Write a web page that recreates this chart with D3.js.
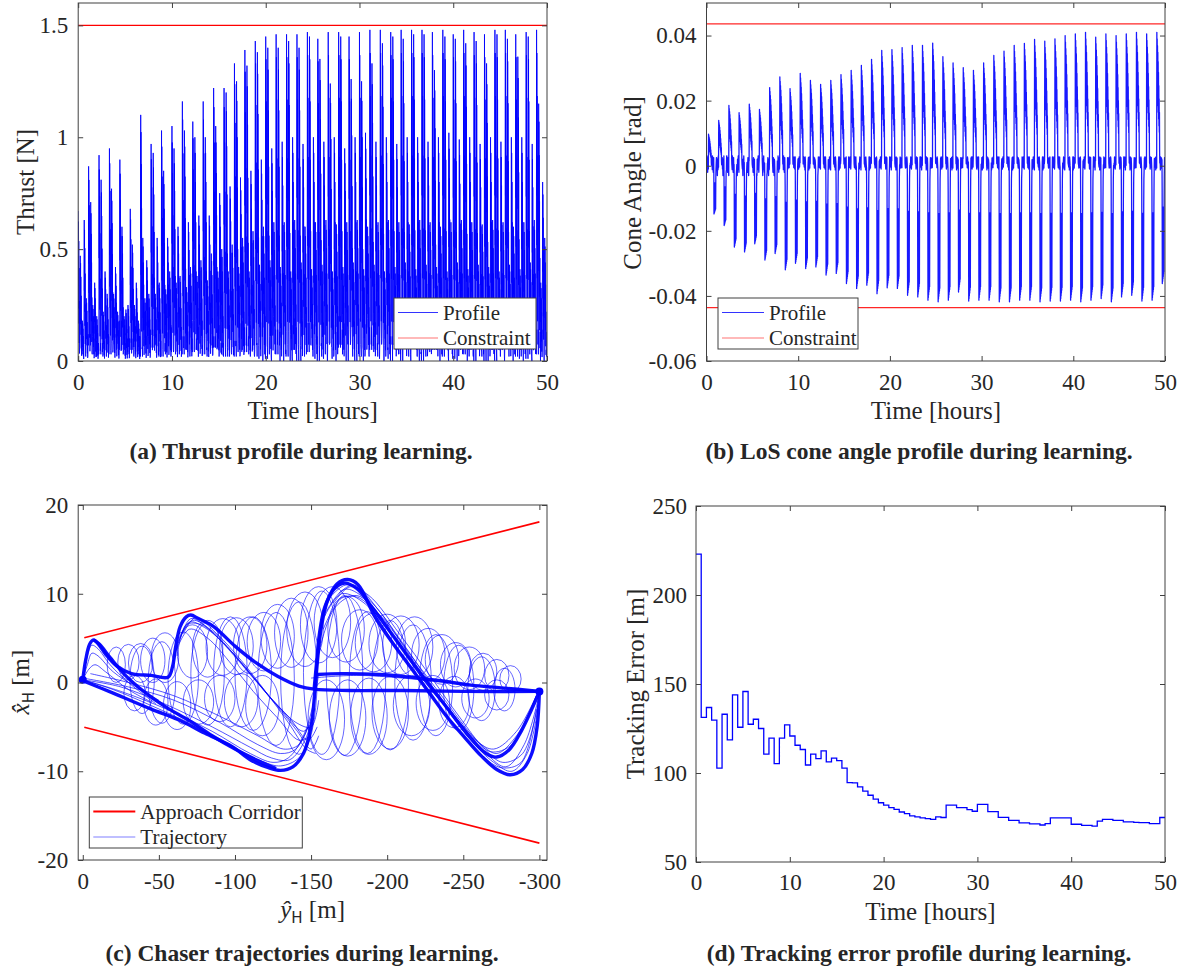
<!DOCTYPE html>
<html>
<head>
<meta charset="utf-8">
<script src="https://cdn.jsdelivr.net/npm/d3@7"></script>
<style>
  body { margin: 0; background: #fff; }
  svg text { font-family: "Liberation Serif", "Times New Roman", serif; fill: #262626; }
</style>
</head>
<body>
<svg id="fig" width="1184" height="974"></svg>
<script>
// ---------------- data ----------------
const timeTicks   = [0, 10, 20, 30, 40, 50];
const thrustTicks = [0, 0.5, 1, 1.5];
const coneTicks   = [-0.06, -0.04, -0.02, 0, 0.02, 0.04];
const yHatTicks   = [0, -50, -100, -150, -200, -250, -300];
const xHatTicks   = [-20, -10, 0, 10, 20];
const errorTicks  = [50, 100, 150, 200, 250];

const thrustLimit = 1.5;      // N
const coneLimit   = 0.0436;   // rad (2.5 deg)
const cyclePeriod = 10 / 9;   // hours per approach cycle
const errorStep   = 5 / 9;    // hours per tracking-error evaluation

// peak thrust of the firings in each cycle [N]
const thrustMain   = [0.67,0.87,0.92,0.95,0.90,0.68,1.10,0.97,1.03,1.05,1.16,1.07,1.16,1.22,1.22,1.33,1.39,1.43,1.45,1.46,1.46,1.46,1.47,1.44,1.47,1.47,1.45,1.47,1.48,1.48,1.47,1.48,1.48,1.48,1.47,1.48,1.46,1.48,1.47,1.46,1.48,1.48,1.46,1.47,1.48];
const thrustSecond = [0.47,0.71,0.81,0.77,0.60,0.52,0.55,0.93,0.85,0.95,1.03,1.00,1.00,1.05,1.20,1.25,1.32,1.38,1.40,1.40,1.43,1.40,1.45,1.35,1.24,1.45,1.26,1.25,1.33,1.42,1.45,1.44,1.46,1.46,1.30,1.45,1.44,1.42,1.43,1.33,1.46,1.44,1.36,1.45,1.15];
const thrustMid    = [0.63,0.35,0.40,0.42,0.23,0.35,0.45,0.55,0.55,0.60,0.62,0.65,0.65,0.75,0.78,0.82,0.85,0.90,0.95,0.98,1.00,0.97,1.00,0.98,1.00,0.95,1.00,1.02,0.98,1.00,0.97,1.00,1.00,0.98,1.00,1.02,0.99,1.00,0.97,1.00,0.98,1.00,1.00,0.97,0.80];
const thrustLow    = [0.28,0.20,0.30,0.22,0.25,0.18,0.30,0.35,0.40,0.38,0.42,0.45,0.48,0.50,0.52,0.55,0.58,0.60,0.62,0.62,0.63,0.60,0.62,0.63,0.61,0.62,0.63,0.60,0.62,0.63,0.62,0.61,0.63,0.62,0.60,0.62,0.63,0.62,0.61,0.63,0.62,0.60,0.62,0.63,0.55];
const thrustMinor  = [0.18,0.25,0.22,0.30,0.20,0.25,0.28,0.30,0.32,0.35,0.33,0.38,0.36,0.40,0.40,0.42,0.40,0.43,0.45,0.42,0.40,0.44,0.41,0.43,0.40,0.42,0.44,0.41,0.43,0.40,0.42,0.44,0.41,0.43,0.42,0.40,0.44,0.41,0.43,0.42,0.40,0.43,0.41,0.44,0.35];
// decay of a firing (fraction of its peak) and low-level thrust between firings
const thrustSpikeShape = [1, 0.5, 0.93, 0.35, 0.8, 0.25, 0.62, 0.12, 0.4, 0.05];
const thrustFloorEarly = [0.05,0.11,0.03,0.08,0.02,0.14,0.06,0.10,0.04,0.18,0.05,0.09,0.02,0.12,0.07,0.03,0.10,0.05,0.15,0.04,0.08,0.03,0.11,0.06,0.02];
const thrustFloorLate  = [0.08,0.02,0.15,0.05,0.00,0.12,0.20,0.06,0.01,0.10,0.17,0.04,0.00,0.09,0.14,0.03,0.11,0.00,0.07,0.19,0.05,0.02,0.13,0.00,0.08];

// extreme LoS cone angle reached in each cycle [rad]
const conePeak   = [0.0097,0.0139,0.0185,0.0163,0.0189,0.0173,0.0240,0.0273,0.0237,0.0284,0.0262,0.0250,0.0262,0.0280,0.0293,0.0308,0.0327,0.0354,0.0357,0.0363,0.0370,0.0370,0.0377,0.0335,0.0316,0.0301,0.0293,0.0316,0.0339,0.0352,0.0370,0.0376,0.0388,0.0383,0.0390,0.0400,0.0405,0.0410,0.0395,0.0405,0.0400,0.0405,0.0410,0.0405,0.0410];
const coneTrough = [-0.0148,-0.0184,-0.0250,-0.0265,-0.0240,-0.0290,-0.0270,-0.0320,-0.0300,-0.0316,-0.0311,-0.0336,-0.0331,-0.0362,-0.0377,-0.0367,-0.0393,-0.0375,-0.0377,-0.0398,-0.0403,-0.0413,-0.0418,-0.0413,-0.0388,-0.0416,-0.0413,-0.0413,-0.0418,-0.0418,-0.0413,-0.0413,-0.0418,-0.0416,-0.0416,-0.0413,-0.0418,-0.0413,-0.0408,-0.0418,-0.0403,-0.0398,-0.0416,-0.0413,-0.0362];
const conePosShape = [1, 0.6, 0.95, 0.55, 0.9, 0.5, 0.85, 0.45, 0.78, 0.4, 0.7, 0.35, 0.6, 0.3, 0.5, 0.25, 0.4, 0.1, 0.02];
const coneNegShape = [0.2, 1, 0.4, 0.98, 0.35, 0.96, 0.4, 0.94, 0.35, 0.92, 0.4, 0.9, 0.3, 0.1];
const coneChatterEarly = [0.0015,-0.0012,0.0030,-0.0005,0.0010,-0.0020,0.0008,0.0025,-0.0010,0.0004,-0.0030,0.0020];
const coneChatterLate  = [0.0008,-0.0006,0.0027,0.0022,0.0005,-0.0010,0.0012,0.0027,0.0003,-0.0004,0.0025,0.0009,-0.0013,0.0027,0.0015,0.0001,-0.0007,0.0024,0.0006,0.0019];

// mean tracking error per evaluation window [m]
const trackingError = [223.0,131.2,136.8,129.7,102.7,133.0,118.6,143.9,125.7,145.8,127.4,130.2,125.0,110.6,119.6,105.3,119.6,127.0,120.8,115.6,113.2,104.5,110.6,108.1,112.4,106.2,108.4,107.0,102.7,94.6,94.4,92.2,89.8,87.5,85.3,83.3,82.0,80.6,79.6,78.1,77.2,75.9,75.3,74.8,74.4,73.9,75.3,75.0,82.0,82.0,80.6,80.6,79.4,78.5,82.4,82.4,78.3,78.3,75.1,75.1,73.4,73.4,72.0,72.0,71.4,71.4,70.8,71.6,74.8,74.8,74.8,74.8,71.2,71.2,70.6,70.6,70.1,73.0,74.0,74.0,73.4,73.4,72.5,72.5,72.3,72.1,72.1,71.6,71.6,75.0];

// approach corridor (y_H, x_H) [m]
const corridorY     = [-1, -300];
const corridorUpper = [5.04, 18.1];
const corridorLower = [-5.04, -18.1];

// converged trajectories (y_H, x_H) [m]
const trajConverged = [
  [[0,0.3],[-2,2.6],[-4.5,4.3],[-7,4.8],[-10,4.4],[-15,3.2],[-22,1.9],[-32,1.0],[-45,0.8],[-56,0.6],[-59,1.8],[-61,4],[-64,6.3],[-68,7.4],[-71,7.6],[-76,7.2],[-86,6.3],[-100,4.1],[-114,2.2],[-128,0.7],[-142,-0.4],[-152,-0.75],[-175,-0.9],[-210,-0.9],[-250,-1],[-300,-1]],
  [[0,0.2],[-20,-1.2],[-45,-3],[-63,-4.2],[-80,-5.7],[-98,-7.2],[-110,-8.7],[-122,-9.6],[-130,-9.9],[-138,-9.5],[-145,-8],[-150,-5],[-152.5,-1],[-154.5,3],[-157,6.5],[-161,9.3],[-167,11.1],[-174,11.6],[-181,11],[-192,7.4],[-203,4.6],[-215,1.8],[-227,-1],[-239,-3.8],[-251,-6.2],[-262,-8.3],[-272,-9.8],[-281,-10.4],[-289,-9.8],[-295,-8],[-298.5,-5],[-300,-1]],
  [[-152,-0.75],[-153.5,2],[-155.5,5.5],[-159,8.5],[-165,10.5],[-172,11.2],[-180,10.6],[-190,8.5],[-205,5],[-222,1],[-240,-3],[-255,-6.3],[-265,-8],[-272,-8.4],[-280,-7.6],[-288,-5.5],[-295,-3],[-300,-1]],
  [[-7,4.8],[-11,4.3],[-18,2.8],[-28,0.8],[-40,-1],[-55,-2.8],[-70,-4.3],[-85,-6],[-100,-7.5],[-115,-8.8],[-127,-9.7]],
  [[-154,0.9],[-170,1.0],[-195,0.9],[-215,0.6],[-235,0.2],[-255,-0.3],[-275,-0.6],[-300,-1]]
];
// intermediate trajectories (y_H, x_H) [m]
const trajLearning = [
  [[0,0.3],[-25,-1],[-55,-3],[-85,-5.5],[-110,-8],[-125,-9],[-135,-8.5],[-145,-6],[-152,-2],[-155,1]],
  [[0,0.3],[-25,-0.5],[-55,-2.5],[-85,-5],[-110,-7.3],[-124,-8.5],[-136,-8.7],[-146,-6.5],[-152,-3]],
  [[0,0.5],[-30,-0.5],[-60,-2],[-90,-4.5],[-115,-7],[-130,-8],[-140,-7.5],[-148,-5]],
  [[-5,1],[-30,0],[-60,-1.5],[-90,-3.8],[-115,-6],[-132,-7.5],[-142,-7],[-150,-4]],
  [[0,0.3],[-20,-0.8],[-45,-2.6],[-75,-5],[-100,-7.4],[-118,-8.9],[-130,-9.4],[-142,-8.5],[-150,-6]],
  [[-62,4],[-70,6.8],[-80,6.2],[-95,4],[-110,1],[-125,-2],[-140,-4.5],[-150,-5],[-155,-2]],
  [[-64,5],[-72,7],[-85,5.8],[-100,3],[-115,0],[-130,-3],[-145,-5.5],[-152,-4]],
  [[-60,3],[-70,6],[-82,5],[-98,2],[-112,-1],[-128,-4],[-142,-6.5],[-150,-6]],
  [[-62,3],[-68,6.5],[-78,6.5],[-92,4.5],[-108,1.5],[-122,-1.5],[-136,-4],[-148,-6.5],[-154,-5]],
  [[-63,4.5],[-71,7.2],[-83,6],[-97,3.5],[-112,0.5],[-127,-2.5],[-141,-5.5],[-150,-7.5],[-155,-6]],
  [[-66,5.5],[-74,7.3],[-88,5.5],[-104,2.5],[-120,-1],[-135,-4.5],[-147,-7.5],[-153,-8]],
  [[-160,8],[-172,10.5],[-185,9.5],[-205,5],[-225,0],[-245,-4],[-262,-7],[-272,-8],[-285,-6],[-298,-1.5]],
  [[-165,9],[-176,10.8],[-190,9],[-210,4.5],[-230,-0.5],[-250,-5],[-265,-8],[-278,-9.5],[-290,-7],[-299,-2]],
  [[-158,6],[-170,9.5],[-182,9.5],[-200,6],[-220,1.5],[-240,-3],[-258,-6.5],[-270,-7.5],[-285,-5.5],[-298,-1.5]],
  [[-168,10],[-178,11],[-195,8],[-215,3],[-235,-2],[-255,-6.5],[-270,-9],[-282,-10],[-292,-8],[-299,-3]],
  [[-156,4],[-166,8.5],[-180,9.8],[-198,7],[-218,2.5],[-238,-2],[-256,-6],[-268,-7.8],[-282,-7],[-297,-2]],
  [[-162,9.5],[-173,11],[-188,9.8],[-208,5.5],[-228,0.8],[-248,-4],[-264,-7.5],[-276,-9],[-289,-8],[-299,-2.5]],
  [[-159,7.5],[-170,10],[-186,8.8],[-206,4],[-226,-0.8],[-246,-5.2],[-262,-8.2],[-275,-9.6],[-288,-9],[-298,-3]],
  [[-150,0.5],[-180,0.8],[-210,0.5],[-240,0],[-270,-0.5],[-300,-1]],
  [[0,0.3],[-3,2],[-6,3.3],[-10,3],[-20,1.2],[-35,-0.5],[-50,-2]],
  [[0,0.3],[-4,1.5],[-8,2],[-15,1.2],[-30,-0.8],[-45,-2.2]],
  [[0,0.3],[-3,3],[-6,4.2],[-10,3.8],[-18,2],[-30,0],[-48,-2.4]]
];
// relative-motion loops: centre y_H, centre x_H, half-extent in y_H, half-extent in x_H [m]
const trajLoops = [
  // full-height loops
  [-39,0.3,8,3.8],[-52,0,9,4.6],[-66,0.5,10,5.2],[-82,1.0,11,5.8],[-97,1.2,11,6.2],
  [-112,1.0,12,6.4],[-127,0.4,12,7.5],[-142,0.5,12,8.6],[-157,1.1,12,9.2],[-172,0.8,12,9.0],
  [-187,0,12,8.0],[-202,-0.3,12,7.3],[-217,0,12,6.5],[-232,-0.3,11,5.7],[-247,-0.6,10,4.8],
  [-262,-0.7,9,3.6],[-277,-0.8,7,2.4],
  // loops above the centre line
  [-22,2.0,6,2.0],[-30,2.3,7,2.0],[-38,2.2,8,2.2],[-46,2.5,8,2.5],[-54,2.8,9,2.8],
  [-72,3.5,10,3.0],[-82,3.8,10,3.2],[-92,4.0,11,3.2],[-101,4.1,11,3.2],[-110,4.2,11,3.2],
  [-119,4.6,11,3.3],[-128,5.2,11,3.6],[-137,5.6,11,3.9],[-146,6.0,12,4.2],[-155,6.5,12,4.3],
  [-164,6.8,12,4.0],[-173,6.0,12,3.7],[-182,4.8,12,3.4],[-191,4.5,12,3.3],[-200,4.4,12,3.3],
  [-209,4.2,12,3.3],[-218,4.0,12,3.4],[-227,3.1,11,3.0],[-236,2.6,11,2.8],[-245,2.0,10,2.5],
  [-254,1.6,10,2.4],[-263,1.2,9,2.1],[-272,0.8,8,1.8],[-281,0.4,7,1.5],
  // loops below the centre line
  [-34,-1.2,7,2.0],[-48,-2.2,8,2.6],[-62,-2.6,9,2.7],[-76,-2.2,10,2.5],[-90,-1.8,10,2.6],
  [-104,-2.0,11,3.0],[-118,-2.6,11,3.4],[-160,-4.2,12,4.5],[-174,-4.0,12,4.3],[-188,-3.8,12,4.3],
  [-202,-3.4,12,4.1],[-216,-2.6,12,3.4],[-230,-2.3,11,3.1],[-244,-2.2,10,2.9],[-258,-1.8,9,2.2],
  [-272,-1.4,8,1.7]
];
const trajStart = [0, 0.3];
const trajEnd   = [-300, -1];

// ---------------- styling ----------------
const serif = '"Liberation Serif", "Times New Roman", serif';
const axisColor = "#404040";
const textColor = "#262626";
const blue = "#0000ff";
const red = "#ff0000";

const svg = d3.select("#fig");

// ---------------- helpers ----------------
function drawAxes(g, x, y, xTicks, yTicks, padX, padY) {
  const [xl, xr] = x.range();
  const [yb, yt] = y.range();
  const fmt = d => String(d);
  const groups = [
    g.append("g").attr("transform", `translate(0,${yb})`)
      .call(d3.axisBottom(x).tickValues(xTicks).tickSize(-5).tickPadding(padX).tickFormat(fmt)),
    g.append("g").attr("transform", `translate(0,${yt})`)
      .call(d3.axisTop(x).tickValues(xTicks).tickSize(-5).tickFormat("")),
    g.append("g").attr("transform", `translate(${xl},0)`)
      .call(d3.axisLeft(y).tickValues(yTicks).tickSize(-5).tickPadding(padY).tickFormat(fmt)),
    g.append("g").attr("transform", `translate(${xr},0)`)
      .call(d3.axisRight(y).tickValues(yTicks).tickSize(-5).tickFormat(""))
  ];
  groups.forEach(a => {
    a.attr("font-family", null).attr("font-size", null);
    a.select(".domain").remove();
    a.selectAll("line").attr("stroke", axisColor).attr("stroke-width", 1);
    a.selectAll("text").attr("font-family", serif).attr("font-size", 23).attr("fill", textColor);
  });
  g.append("rect").attr("x", xl).attr("y", yt).attr("width", xr - xl).attr("height", yb - yt)
    .attr("fill", "none").attr("stroke", axisColor).attr("stroke-width", 1);
}

function clipFor(id, x, y) {
  const [xl, xr] = x.range();
  const [yb, yt] = y.range();
  svg.append("clipPath").attr("id", id).append("rect")
    .attr("x", xl).attr("y", yt).attr("width", xr - xl).attr("height", yb - yt);
  return `url(#${id})`;
}

function legend(g, box, rows) {
  g.append("rect").attr("x", box.x).attr("y", box.y).attr("width", box.w).attr("height", box.h)
    .attr("fill", "#fff").attr("stroke", axisColor).attr("stroke-width", 1);
  rows.forEach((r, i) => {
    const cy = box.y + 14.5 + i * 25.5;
    g.append("line").attr("x1", box.x + 4).attr("x2", box.x + box.lineW)
      .attr("y1", cy).attr("y2", cy).attr("stroke", r.color)
      .attr("stroke-width", r.width).attr("stroke-opacity", r.opacity);
    g.append("text").attr("x", box.x + box.lineW + 5).attr("y", cy + 7)
      .attr("font-size", 21).attr("font-family", serif).text(r.label);
  });
}

// builds a time series cycle by cycle: low-level chatter on a fixed grid plus firing transients
function cycleSeries(spikesOf, chatterOf, grid, step) {
  const pts = [];
  for (let c = 0; c < thrustMain.length; c++) {
    const t0 = c * cyclePeriod;
    const spikes = spikesOf(c);
    const chatter = chatterOf(c);
    const local = [];
    for (let k = 0; k < grid; k++) {
      const ph = k / grid;
      const busy = spikes.some(s => ph >= s.phase - 0.008 && ph <= s.phase + s.shape.length * step + 0.004);
      if (!busy) local.push([ph, chatter[(k + c * 7) % chatter.length]]);
    }
    spikes.forEach(s => s.shape.forEach((r, j) => local.push([s.phase + j * step, s.height * r])));
    local.sort((a, b) => a[0] - b[0]);
    local.forEach(([ph, v]) => pts.push([t0 + ph * cyclePeriod, v]));
  }
  return pts;
}

function caption(x, y, text) {
  svg.append("text").attr("x", x).attr("y", y).attr("text-anchor", "middle")
    .attr("font-size", 23.5).attr("font-weight", "bold").attr("font-family", serif)
    .attr("fill", "#000").text(text);
}
function xTitle(x, y, text) {
  return svg.append("text").attr("x", x).attr("y", y).attr("text-anchor", "middle")
    .attr("font-size", 25).attr("font-family", serif).text(text);
}
function yTitle(x, y, text) {
  return svg.append("text").attr("transform", `translate(${x},${y}) rotate(-90)`)
    .attr("text-anchor", "middle").attr("font-size", 25).attr("font-family", serif).text(text);
}

// ---------------- (a) thrust ----------------
{
  const x = d3.scaleLinear().domain([0, 50]).range([78.2, 547]);
  const y = d3.scaleLinear().domain([0, 1.6]).range([361, 3]);
  const g = svg.append("g");
  const clip = clipFor("clipA", x, y);
  const series = cycleSeries(
    c => [
      { phase: 0.0,  height: thrustMain[c],   shape: thrustSpikeShape },
      { phase: 0.2,  height: thrustSecond[c], shape: thrustSpikeShape },
      { phase: 0.4,  height: thrustMinor[c],  shape: thrustSpikeShape },
      { phase: 0.58, height: thrustMid[c],    shape: thrustSpikeShape },
      { phase: 0.78, height: thrustLow[c],    shape: thrustSpikeShape }
    ],
    c => (c < 17 ? thrustFloorEarly : thrustFloorLate),
    40, 0.014);
  g.append("path").datum(series).attr("clip-path", clip)
    .attr("fill", "none").attr("stroke", blue).attr("stroke-width", 1).attr("stroke-opacity", 0.85)
    .attr("d", d3.line().x(d => x(d[0])).y(d => y(d[1])));
  g.append("line").attr("x1", x(0)).attr("x2", x(50)).attr("y1", y(thrustLimit)).attr("y2", y(thrustLimit))
    .attr("stroke", red).attr("stroke-width", 1.2);
  drawAxes(g, x, y, timeTicks, thrustTicks, 13, 10);
  legend(g, { x: 394, y: 298, w: 142, h: 51, lineW: 44 }, [
    { label: "Profile", color: blue, width: 1, opacity: 0.8 },
    { label: "Constraint", color: red, width: 1.2, opacity: 0.55 }
  ]);
  xTitle(312.6, 419, "Time [hours]");
  yTitle(34, 182, "Thrust [N]");
  caption(301, 459, "(a) Thrust profile during learning.");
}

// ---------------- (b) cone angle ----------------
{
  const x = d3.scaleLinear().domain([0, 50]).range([706.5, 1165]);
  const y = d3.scaleLinear().domain([-0.06, 0.05]).range([361, 3]);
  const g = svg.append("g");
  const clip = clipFor("clipB", x, y);
  const series = cycleSeries(
    c => [
      { phase: 0.2,  height: conePeak[c],   shape: conePosShape },
      { phase: 0.72, height: coneTrough[c], shape: coneNegShape }
    ],
    c => (c < 8 ? coneChatterEarly : coneChatterLate),
    44, 0.016);
  g.append("path").datum(series).attr("clip-path", clip)
    .attr("fill", "none").attr("stroke", blue).attr("stroke-width", 1.3).attr("stroke-opacity", 0.9)
    .attr("stroke-linejoin", "round")
    .attr("d", d3.line().x(d => x(d[0])).y(d => y(d[1])));
  [coneLimit, -coneLimit].forEach(v =>
    g.append("line").attr("x1", x(0)).attr("x2", x(50)).attr("y1", y(v)).attr("y2", y(v))
      .attr("stroke", red).attr("stroke-width", 1.2).attr("stroke-opacity", 0.85));
  drawAxes(g, x, y, timeTicks, coneTicks, 13, 10);
  legend(g, { x: 718, y: 298, w: 140, h: 51, lineW: 46 }, [
    { label: "Profile", color: blue, width: 1, opacity: 0.8 },
    { label: "Constraint", color: red, width: 1.2, opacity: 0.55 }
  ]);
  xTitle(936, 419, "Time [hours]");
  yTitle(641, 183, "Cone Angle [rad]");
  caption(919, 459, "(b) LoS cone angle profile during learning.");
}

// ---------------- (c) trajectories ----------------
{
  const x = d3.scaleLinear().domain([3, -305]).range([78.2, 547]);
  const y = d3.scaleLinear().domain([-20, 20]).range([860, 505]);
  const g = svg.append("g");
  const clip = clipFor("clipC", x, y);
  const plot = g.append("g").attr("clip-path", clip);
  const line = d3.line().x(d => x(d[0])).y(d => y(d[1])).curve(d3.curveCatmullRom.alpha(0.5));

  plot.selectAll("ellipse.loop").data(trajLoops).join("ellipse").attr("class", "loop")
    .attr("cx", d => x(d[0])).attr("cy", d => y(d[1]))
    .attr("rx", d => Math.abs(x(d[0] + d[2]) - x(d[0])))
    .attr("ry", d => Math.abs(y(d[1] + d[3]) - y(d[1])))
    .attr("fill", "none").attr("stroke", blue).attr("stroke-width", 0.8).attr("stroke-opacity", 0.75);
  plot.selectAll("path.learn").data(trajLearning).join("path").attr("class", "learn")
    .attr("d", line).attr("fill", "none").attr("stroke", blue)
    .attr("stroke-width", 0.9).attr("stroke-opacity", 0.75);
  plot.selectAll("path.conv").data(trajConverged).join("path").attr("class", "conv")
    .attr("d", line).attr("fill", "none").attr("stroke", blue)
    .attr("stroke-width", 3.4).attr("stroke-linejoin", "round").attr("stroke-opacity", 0.95);
  [trajStart, trajEnd].forEach(p =>
    plot.append("circle").attr("cx", x(p[0])).attr("cy", y(p[1])).attr("r", 4).attr("fill", blue));

  [corridorUpper, corridorLower].forEach(side =>
    g.append("line").attr("x1", x(corridorY[0])).attr("x2", x(corridorY[1]))
      .attr("y1", y(side[0])).attr("y2", y(side[1]))
      .attr("stroke", red).attr("stroke-width", 1.6));

  drawAxes(g, x, y, yHatTicks, xHatTicks, 13, 10);
  legend(g, { x: 89.3, y: 797, w: 213, h: 51, lineW: 46 }, [
    { label: "Approach Corridor", color: red, width: 1.8, opacity: 1 },
    { label: "Trajectory", color: blue, width: 1, opacity: 0.5 }
  ]);

  const xt = svg.append("text").attr("x", 312.6).attr("y", 918).attr("text-anchor", "middle")
    .attr("font-size", 25).attr("font-family", serif);
  xt.append("tspan").attr("font-style", "italic").text("y\u0302");
  xt.append("tspan").attr("font-size", 15).attr("dy", 5).attr("font-family", '"DejaVu Sans", sans-serif').text("H");
  xt.append("tspan").attr("dy", -5).text(" [m]");

  const yt = svg.append("text").attr("transform", "translate(29,682) rotate(-90)")
    .attr("text-anchor", "middle").attr("font-size", 25).attr("font-family", serif);
  yt.append("tspan").attr("font-style", "italic").text("x\u0302");
  yt.append("tspan").attr("font-size", 15).attr("dy", 5).attr("font-family", '"DejaVu Sans", sans-serif').text("H");
  yt.append("tspan").attr("dy", -5).text(" [m]");

  caption(302, 961, "(c) Chaser trajectories during learning.");
}

// ---------------- (d) tracking error ----------------
{
  const x = d3.scaleLinear().domain([0, 50]).range([696, 1165]);
  const y = d3.scaleLinear().domain([50, 250]).range([862, 506]);
  const g = svg.append("g");
  const clip = clipFor("clipD", x, y);
  const steps = trackingError.map((v, k) => [k * errorStep, v]);
  steps.push([50, trackingError[trackingError.length - 1]]);
  g.append("path").datum(steps).attr("clip-path", clip)
    .attr("fill", "none").attr("stroke", blue).attr("stroke-width", 1.3)
    .attr("d", d3.line().x(d => x(d[0])).y(d => y(d[1])).curve(d3.curveStepAfter));
  drawAxes(g, x, y, timeTicks, errorTicks, 12, 9);
  xTitle(930.5, 920, "Time [hours]");
  yTitle(644, 684, "Tracking Error [m]");
  caption(919, 961, "(d) Tracking error profile during learning.");
}
</script>
</body>
</html>
